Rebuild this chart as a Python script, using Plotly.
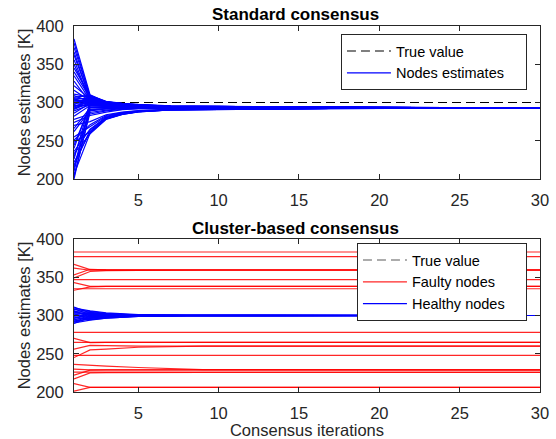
import plotly.graph_objects as go

# ---------------- data ----------------
x_ticks = [5, 10, 15, 20, 25, 30]
y_ticks = [200, 250, 300, 350, 400]
x_range = [1, 30]
y_range = [200, 400]
true_value = 300

# Standard consensus: node estimates at selected iterations
std_iter = [1, 2, 3, 4, 5, 7, 10, 17, 30]
std_it1 = [383, 372, 362, 350, 345, 335, 322,
           311, 309, 307, 306, 305, 304, 303, 302, 301, 300, 299, 298, 297, 296, 295, 294, 293, 292, 291, 289,
           282, 278, 270, 262, 255, 248, 240, 233, 226, 218, 210, 203,
           378, 366, 356, 340, 328, 316, 286, 274, 266, 251, 244, 236, 229, 222, 214, 206, 200]
std_it2 = [310, 308, 306, 304, 309, 303, 305,
           307, 301, 309, 304, 298, 306, 300, 303, 297, 305, 302, 299, 308, 296, 301, 304, 298, 303, 300, 297,
           296, 285, 275, 290, 268, 262, 298, 259, 300, 264, 294, 287,
           307, 305, 302, 306, 300, 302, 299, 283, 293, 271, 296, 265, 289, 261, 297, 260, 291]
std_it3 = [300.5, 299.5, 301, 298.5, 301.5, 298, 299.5,
           300, 297.5, 301, 299, 296.5, 300, 297.5, 299.5, 296, 300.5, 298.5, 296.5, 301, 295, 297.5, 299.5, 295.5, 298.5, 297, 295.5,
           295, 289, 284, 292, 282, 280, 296, 278, 297, 281, 293.5, 290,
           300, 299, 298, 300.5, 297.5, 298.5, 297, 287.5, 293, 283, 295.5, 280.5, 291.5, 279, 296, 278.5, 292]
std_it4 = [298, 297.5, 298.5, 297, 299, 296.5, 297.5,
           297.5, 296, 298.5, 297, 295.5, 297.5, 296, 297, 295, 298, 296.5, 295.5, 298.5, 294.5, 296, 297, 294.5, 296.5, 295.5, 294.5,
           294.5, 291, 287.5, 293, 286, 285, 295, 284.5, 295.5, 285.5, 293.5, 292,
           297.8, 297, 296.5, 298, 296, 296.8, 295.8, 290.5, 293.2, 286.8, 294.8, 285.2, 292.3, 284.7, 295, 284.3, 292.5]
std_it5 = [296.5, 296, 297, 295.8, 297.5, 295.5, 296.2,
           296.2, 295.3, 297, 295.9, 294.9, 296.2, 295.3, 295.9, 294.6, 296.6, 295.5, 294.8, 297, 294.2, 295.3, 295.9, 294.2, 295.5, 294.9, 294.2,
           294, 291.8, 289.5, 293, 288.5, 288, 294.5, 287.8, 295, 288.3, 293.2, 292.5,
           296.3, 295.8, 295.5, 296.7, 295.2, 295.8, 295, 291.8, 293.3, 289, 294.3, 288.2, 292.7, 288, 294.4, 287.6, 292.8]
std_it7 = [295, 294.7, 295.3, 294.6, 295.6, 294.4, 294.9,
           294.9, 294.4, 295.3, 294.6, 294.1, 294.9, 294.4, 294.7, 293.9, 295.1, 294.5, 294.1, 295.3, 293.8, 294.4, 294.7, 293.8, 294.5, 294.1, 293.8,
           293.6, 292.4, 291.2, 293, 290.7, 290.4, 293.9, 290.2, 294.1, 290.5, 293.1, 292.7,
           294.9, 294.6, 294.4, 295.2, 294.2, 294.6, 294.2, 292.3, 293.2, 291, 293.8, 290.6, 292.9, 290.4, 293.9, 290.3, 292.9]
std_it10 = [294.6, 294.4, 294.9, 294.3, 295.1, 294.1, 294.4,
            294.4, 294.1, 294.9, 294.3, 293.9, 294.4, 294.1, 294.3, 293.8, 294.6, 294.3, 293.9, 294.9, 293.6, 294.1, 294.3, 293.6, 294.3, 293.9, 293.6,
            293.4, 292.4, 291.6, 293, 291.2, 290.9, 293.7, 290.8, 293.9, 291, 293.1, 292.7,
            294.5, 294.2, 294, 294.7, 293.9, 294.2, 293.9, 292.6, 293.1, 291.8, 293.5, 291.3, 292.9, 291.1, 293.6, 291, 292.9]
std_it17 = [293.5, 293.4, 293.6, 293.4, 293.7, 293.3, 293.4,
            293.4, 293.3, 293.6, 293.4, 293.2, 293.4, 293.3, 293.4, 293.2, 293.5, 293.4, 293.2, 293.6, 293.1, 293.3, 293.4, 293.1, 293.4, 293.2, 293.1,
            293.1, 292.7, 292.4, 293, 292.3, 292.2, 293.2, 292.1, 293.3, 292.2, 293, 292.9,
            293.5, 293.4, 293.3, 293.6, 293.3, 293.4, 293.3, 292.8, 293, 292.5, 293.2, 292.3, 292.9, 292.3, 293.2, 292.2, 292.9]
std_it30 = [293, 293, 293, 293, 293, 293, 293,
            293, 293, 293, 293, 293, 293, 293, 293, 293, 293, 293, 293, 293, 293, 293, 293, 293, 293, 293, 293,
            293, 293, 293, 293, 293, 293, 293, 293, 293, 293, 293, 293,
            293, 293, 293, 293, 293, 293, 293, 293, 293, 293, 293, 293, 293, 293, 293, 293, 293]
std_cols = [std_it1, std_it2, std_it3, std_it4, std_it5, std_it7, std_it10, std_it17, std_it30]

# Cluster-based consensus: faulty nodes
fault_iter = [1, 2, 3, 5, 9, 30]
fault_it1 = [383, 377, 367, 362, 353, 349, 347, 343, 333, 335, 278, 270, 265, 256, 245, 248, 236, 230, 222, 217, 226, 211, 201]
fault_it2 = [383, 377, 360, 359.2, 360.5, 357.5, 347, 338, 337.5, 335, 278, 264.5, 265, 261, 255, 248, 234.5, 229, 228.5, 225, 226, 206, 206]
fault_it3 = [383, 377, 359.6, 359.4, 359.7, 358.8, 347, 338, 338, 335, 278, 265, 265, 260.5, 256, 248, 233.8, 229, 228.8, 225.4, 226, 206, 206]
fault_it5 = [383, 377, 359.5, 359.5, 359.5, 359.3, 347, 338, 338, 335, 278, 265, 265, 260, 258.5, 248, 232, 229, 229, 225.5, 226, 206, 206]
fault_it9 = [383, 377, 359.5, 359.5, 359.5, 359.5, 347, 338, 338, 335, 278, 265, 265, 260, 260, 248, 229.2, 229, 229, 225.5, 226, 206, 206]
fault_it30 = [383, 377, 359.5, 359.5, 359.5, 359.5, 347, 338, 338, 335, 278, 265, 265, 260, 260, 248, 229, 229, 229, 225.5, 226, 206, 206]
fault_cols = [fault_it1, fault_it2, fault_it3, fault_it5, fault_it9, fault_it30]

# Cluster-based consensus: healthy nodes
healthy_iter = [1, 2, 3, 4, 5, 6, 8, 30]
healthy_it1 = [311.0, 309.8, 308.6, 307.9, 306.5, 305.2, 304.4, 303.1, 302.3, 301.0, 300.2, 299.1, 298.4, 297.0, 296.3, 295.1, 294.2, 293.0, 292.1, 291.3, 290.2, 289.5]
healthy_it2 = [303.5, 306.0, 301.2, 305.1, 298.0, 304.2, 300.8, 302.6, 296.1, 303.4, 299.0, 301.9, 294.6, 300.1, 302.8, 297.2, 299.6, 295.5, 298.8, 296.6, 294.0, 297.9]
healthy_it3 = [301.8, 303.4, 299.5, 302.6, 297.6, 302.0, 300.3, 301.4, 297.9, 302.1, 299.4, 300.9, 296.7, 299.8, 301.5, 298.6, 299.7, 297.2, 299.1, 298.1, 296.5, 298.8]
healthy_it4 = [300.9, 301.9, 299.6, 301.5, 298.6, 301.1, 300.2, 300.8, 298.8, 301.2, 299.6, 300.5, 298.1, 299.9, 300.8, 299.2, 299.8, 298.5, 299.4, 299.0, 298.0, 299.3]
healthy_it5 = [300.5, 301.1, 299.8, 300.9, 299.2, 300.6, 300.1, 300.5, 299.3, 300.7, 299.8, 300.3, 298.9, 300.0, 300.4, 299.6, 299.9, 299.2, 299.6, 299.4, 298.9, 299.6]
healthy_it6 = [300.3, 300.6, 299.9, 300.5, 299.5, 300.4, 300.1, 300.3, 299.6, 300.4, 299.9, 300.2, 299.4, 300.0, 300.2, 299.8, 300.0, 299.5, 299.8, 299.7, 299.4, 299.8]
healthy_it8 = [300.1, 300.2, 300.0, 300.2, 299.8, 300.1, 300.0, 300.1, 299.9, 300.1, 300.0, 300.1, 299.8, 300.0, 300.1, 299.9, 300.0, 299.9, 299.9, 299.9, 299.8, 299.9]
healthy_it30 = [300.0, 300.0, 300.0, 300.0, 300.0, 300.0, 300.0, 300.0, 300.0, 300.0, 300.0, 300.0, 300.0, 300.0, 300.0, 300.0, 300.0, 300.0, 300.0, 300.0, 300.0, 300.0]
healthy_cols = [healthy_it1, healthy_it2, healthy_it3, healthy_it4, healthy_it5, healthy_it6, healthy_it8, healthy_it30]


def build(iters, cols):
    xs, ys = [], []
    for i in range(len(cols[0])):
        xs += list(iters) + [None]
        ys += [c[i] for c in cols] + [None]
    return xs, ys


FONT = "Liberation Sans, Arial, sans-serif"
AX = "#262626"
LW = 1.2
PAD = "\u00a0" * 4  # right padding inside the legend boxes

fig = go.Figure()

# ---- top panel ----
fig.add_trace(go.Scatter(x=x_range, y=[true_value, true_value], mode="lines",
                         line=dict(color="black", width=1.1, dash="9px,5px"),
                         name="True value", xaxis="x", yaxis="y", legend="legend"))
sx, sy = build(std_iter, std_cols)
fig.add_trace(go.Scatter(x=sx, y=sy, mode="lines", line=dict(color="#0000FF", width=LW),
                         name="Nodes estimates" + PAD, xaxis="x", yaxis="y", legend="legend"))

# ---- bottom panel ----
fig.add_trace(go.Scatter(x=x_range, y=[true_value, true_value], mode="lines",
                         line=dict(color="rgba(0,0,0,0.65)", width=1.1, dash="9px,5px"),
                         name="True value", xaxis="x2", yaxis="y2", legend="legend2"))
fx, fy = build(fault_iter, fault_cols)
fig.add_trace(go.Scatter(x=fx, y=fy, mode="lines", line=dict(color="rgba(255,0,0,0.85)", width=LW),
                         name="Faulty nodes", xaxis="x2", yaxis="y2", legend="legend2"))
hx, hy = build(healthy_iter, healthy_cols)
fig.add_trace(go.Scatter(x=hx, y=hy, mode="lines", line=dict(color="#0000FF", width=LW),
                         name="Healthy nodes" + PAD, xaxis="x2", yaxis="y2", legend="legend2"))

axis_common = dict(showline=True, linecolor=AX, linewidth=1, mirror="ticks", ticks="inside",
                   ticklen=5, tickcolor=AX, tickwidth=1, showgrid=False, zeroline=False,
                   ticklabelstandoff=6, automargin=False,
                   tickfont=dict(family=FONT, size=16.5, color=AX))

legend_common = dict(bgcolor="white", bordercolor=AX, borderwidth=1,
                     font=dict(family=FONT, size=14.5, color="black"),
                     xanchor="right", yanchor="top", itemwidth=44, tracegroupgap=0)

fig.update_layout(
    width=556, height=439, autosize=False,
    margin=dict(l=74, r=16, t=26, b=47),
    plot_bgcolor="white", paper_bgcolor="white",
    font=dict(family=FONT, color=AX),
    xaxis=dict(domain=[0, 1], anchor="y", range=x_range, tickvals=x_ticks, **axis_common),
    yaxis=dict(domain=[0.582, 1], anchor="x", range=y_range, tickvals=y_ticks,
               title=dict(text="Nodes estimates [K]", font=dict(family=FONT, size=16.5, color=AX), standoff=1),
               **axis_common),
    xaxis2=dict(domain=[0, 1], anchor="y2", range=x_range, tickvals=x_ticks,
                title=dict(text="Consensus iterations", font=dict(family=FONT, size=16.5, color=AX), standoff=8),
                **axis_common),
    yaxis2=dict(domain=[0, 0.418], anchor="x2", range=y_range, tickvals=y_ticks,
                title=dict(text="Nodes estimates [K]", font=dict(family=FONT, size=16.5, color=AX), standoff=1),
                **axis_common),
    legend=dict(x=0.972, y=0.978, **legend_common),
    legend2=dict(x=0.972, y=0.407, **legend_common),
    showlegend=True,
    annotations=[
        dict(text="<b>Standard consensus</b>", x=0.475, y=1.032, xref="paper", yref="paper",
             xanchor="center", yanchor="middle", showarrow=False,
             font=dict(family=FONT, size=17, color="black")),
        dict(text="<b>Cluster-based consensus</b>", x=0.475, y=0.446, xref="paper", yref="paper",
             xanchor="center", yanchor="middle", showarrow=False,
             font=dict(family=FONT, size=17, color="black")),
    ],
)

fig.write_html("out.html", config={"displayModeBar": False},
               post_script="document.body.style.margin='0px';")
